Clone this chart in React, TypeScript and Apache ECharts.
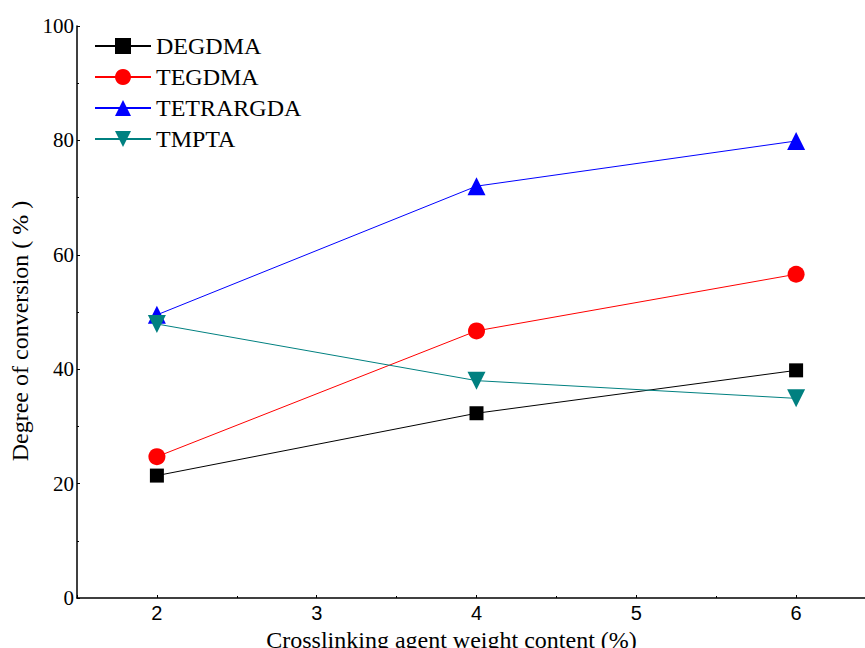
import React, { useEffect, useRef } from "react";
import * as echarts from "echarts";

const xValues = [2, 4, 6];
const degdma = [21.4, 32.3, 39.8];
const tegdma = [24.7, 46.7, 56.6];
const tetrargda = [49.5, 72.0, 79.9];
const tmpta = [47.9, 38.0, 34.9];
const seriesNames = ["DEGDMA", "TEGDMA", "TETRARGDA", "TMPTA"];

const pairs = (ys: number[]) => xValues.map((x, i) => [x, ys[i]]);

export default function App() {
  const ref = useRef<HTMLDivElement>(null);
  useEffect(() => {
    if (!ref.current) return;
    const chart = echarts.init(ref.current, null, { renderer: "svg" });
    const serif = "Liberation Serif";
    const sans = "Liberation Sans";
    const mk = (name: string, data: number[], color: string, symbol: string, size: number, rotate = 0) => ({
      name,
      type: "line",
      data: pairs(data),
      symbol,
      symbolSize: size,
      symbolRotate: rotate,
      showAllSymbol: true,
      lineStyle: { color, width: 1 },
      itemStyle: { color },
      emphasis: { disabled: true },
    });
    chart.setOption({
      animation: false,
      backgroundColor: "#ffffff",
      grid: { left: 77, top: 26, bottom: 50, right: -11, containLabel: false, outerBoundsMode: "none" },
      legend: {
        left: 89,
        top: 29,
        orient: "vertical",
        itemWidth: 56,
        itemHeight: 20,
        itemGap: 7,
        textStyle: { fontFamily: serif, fontSize: 24, color: "#000" },
        data: seriesNames,
      },
      xAxis: {
        type: "value",
        min: 1.5,
        max: 6.5,
        splitNumber: 5,
        name: "Crosslinking agent weight content (%)",
        nameLocation: "middle",
        nameGap: 23,
        nameTextStyle: { fontFamily: serif, fontSize: 24, color: "#000", padding: [0, 50, 0, 0] },
        axisLine: { lineStyle: { color: "#000", width: 1.5 } },
        axisTick: { show: true, length: 3, inside: true, lineStyle: { color: "#000" } },
        minorTick: { show: true, splitNumber: 2, length: 2, lineStyle: { color: "#000" } },
        axisLabel: { fontFamily: sans, fontSize: 20, color: "#000", margin: 5, showMinLabel: false, showMaxLabel: false },
        splitLine: { show: false },
      },
      yAxis: {
        type: "value",
        min: 0,
        max: 100,
        interval: 20,
        name: "Degree of conversion ( % )",
        nameLocation: "middle",
        nameGap: 45,
        nameTextStyle: { fontFamily: serif, fontSize: 24, color: "#000", padding: [0, 38, 0, 0] },
        axisLine: { show: true, lineStyle: { color: "#000", width: 1.5 } },
        axisTick: { show: true, length: 3, inside: true, lineStyle: { color: "#000" } },
        minorTick: { show: true, splitNumber: 2, length: 2, lineStyle: { color: "#000" } },
        axisLabel: { fontFamily: serif, fontSize: 21, color: "#000", margin: 3 },
        splitLine: { show: false },
      },
      series: [
        mk("DEGDMA", degdma, "#000000", "rect", 14),
        mk("TEGDMA", tegdma, "#ff0000", "circle", 17),
        mk("TETRARGDA", tetrargda, "#0000ff", "triangle", 18),
        mk("TMPTA", tmpta, "#008080", "triangle", 18, 180),
      ],
    });
    return () => chart.dispose();
  }, []);
  return (
    <div
      ref={ref}
      style={{ position: "fixed", left: 0, top: 0, width: 865, height: 648, background: "#fff" }}
    />
  );
}
